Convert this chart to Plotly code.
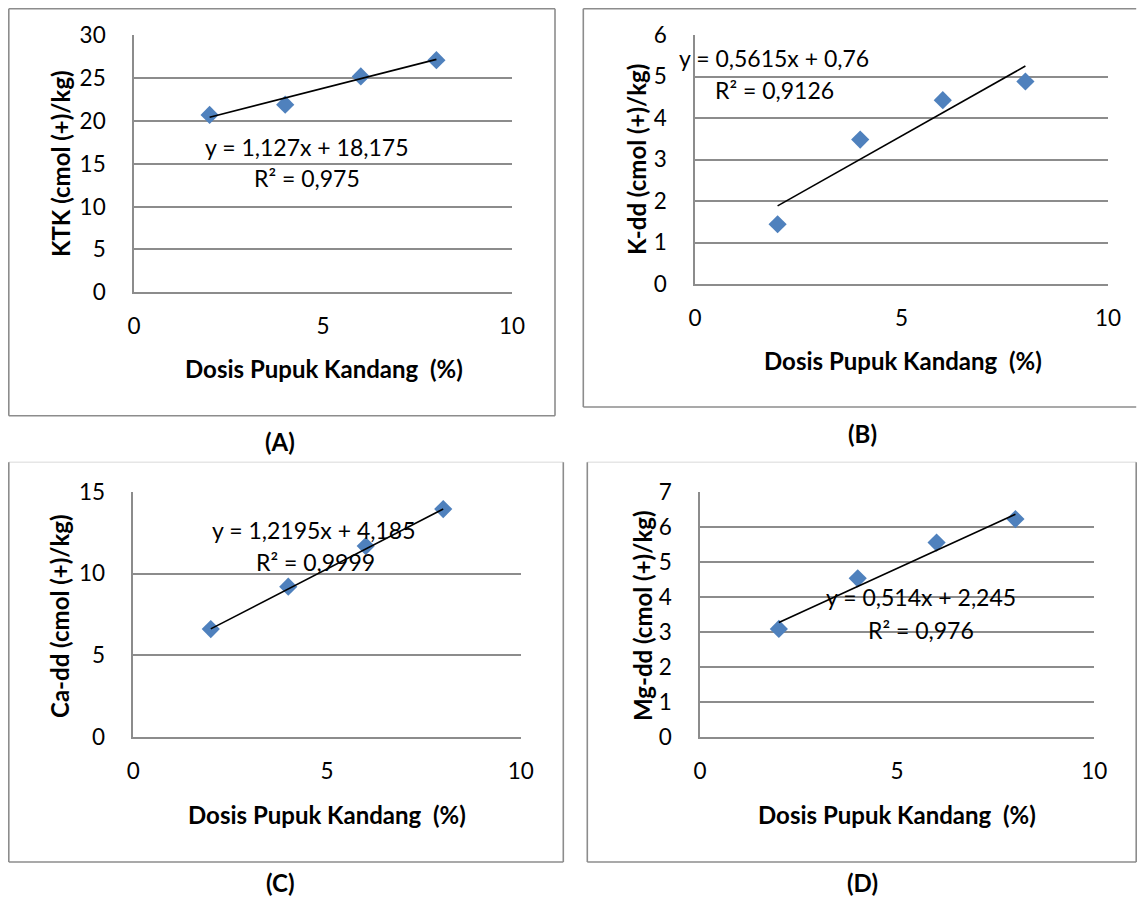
import plotly.graph_objects as go

# page offset (browser default body margin) and figure size
OFF = 8
W, H = 1145 - 2 * OFF, 905 - 2 * OFF

dose = [2, 4, 6, 8]
ktk = [20.7, 21.9, 25.2, 27.1]
k_dd = [1.44, 3.48, 4.43, 4.88]
ca_dd = [6.61, 9.2, 11.68, 13.94]
mg_dd = [3.09, 4.53, 5.55, 6.22]

slopes = [1.127, 0.5615, 1.2195, 0.514]
intercepts = [18.175, 0.76, 4.185, 2.245]
eq_texts = ["y = 1,127x + 18,175", "y = 0,5615x + 0,76", "y = 1,2195x + 4,185", "y = 0,514x + 2,245"]
r2_texts = ["R² = 0,975", "R² = 0,9126", "R² = 0,9999", "R² = 0,976"]
y_titles = ["KTK (cmol (+)/kg)", "K-dd (cmol (+)/kg)", "Ca-dd (cmol (+)/kg)", "Mg-dd (cmol (+)/kg)"]
panel_labels = ["(A)", "(B)", "(C)", "(D)"]
x_title = "Dosis Pupuk Kandang\u00a0 (%)"
y_max = [30, 6, 15, 7]
y_step = [5, 1, 5, 1]
series = [ktk, k_dd, ca_dd, mg_dd]

# layout (page pixels)
plot_boxes = [(134, 512, 35.3, 292.3), (695, 1108, 35, 284),
              (133.3, 520.7, 491.7, 737.3), (700, 1094.3, 491.7, 737.3)]
frames = [(8, 555, 6, 415.7), (583.3, 1146, 5.7, 407),
          (7.3, 563.3, 462.3, 862), (587.3, 1137.3, 462.3, 862)]
eq_pos = [(306, 147), (774, 58), (313, 530), (921, 597)]
r2_pos = [(307, 178), (774, 90), (315, 562), (921, 630)]
ytitle_pos = [(60, 164), (637, 160), (59, 616), (642, 616)]
xtitle_pos = [(324, 368), (903, 360), (327, 814), (897, 814)]
label_pos = [(280, 441), (862, 433), (280, 882), (862, 882)]

FONT = "Lato"
GRID = "#8c8c8c"
BLUE = "#4F81BD"

fig = go.Figure()
annotations = []
shapes = []

def px(x):
    return (x - OFF) / W

def py(y):
    return 1 - (y - OFF) / H

def cx(x):
    return min(max(x, OFF + 0.8), OFF + W - 0.8)

def cy(y):
    return min(max(y, OFF + 0.8), OFF + H - 0.8)

for i in range(4):
    n = "" if i == 0 else str(i + 1)
    x0, x1, y0, y1 = plot_boxes[i]
    fig.add_trace(go.Scatter(
        x=dose, y=series[i], mode="markers",
        marker=dict(symbol="diamond", size=14, color=BLUE, line=dict(width=0)),
        xaxis="x" + n, yaxis="y" + n, showlegend=False, cliponaxis=False))
    tx = [dose[0], dose[-1]]
    ty = [slopes[i] * v + intercepts[i] for v in tx]
    fig.add_trace(go.Scatter(
        x=tx, y=ty, mode="lines", line=dict(color="black", width=1.6),
        xaxis="x" + n, yaxis="y" + n, showlegend=False, cliponaxis=False))
    fig.update_layout(**{
        "xaxis" + n: dict(domain=[px(x0), px(x1)], range=[0, 10], tick0=0, dtick=5,
                          showgrid=False, zeroline=False, showline=True, linecolor=GRID,
                          linewidth=1.6, ticks="", ticklabelstandoff=13, automargin=False,
                          tickfont=dict(family=FONT, size=22.5, color="black"),
                          anchor="y" + n, fixedrange=True),
        "yaxis" + n: dict(domain=[py(y1), py(y0)], range=[0, y_max[i]], tick0=0,
                          dtick=y_step[i], showgrid=True, gridcolor=GRID, gridwidth=1.6,
                          zeroline=False, showline=True, linecolor=GRID, linewidth=1.6,
                          ticks="", ticklabelstandoff=22, automargin=False,
                          tickfont=dict(family=FONT, size=22.5, color="black"),
                          anchor="x" + n, fixedrange=True),
    })
    for (tx_, ty_), txt, bold, ang in [
        (eq_pos[i], eq_texts[i], False, 0),
        (r2_pos[i], r2_texts[i], False, 0),
        (ytitle_pos[i], y_titles[i], True, -90),
        (xtitle_pos[i], x_title, True, 0),
        (label_pos[i], panel_labels[i], True, 0),
    ]:
        annotations.append(dict(
            x=px(tx_), y=py(ty_), xref="paper", yref="paper",
            text=("<b>%s</b>" % txt) if bold else txt, showarrow=False,
            xanchor="center", yanchor="middle", textangle=ang,
            font=dict(family=FONT, size=24 if bold else 23, color="black")))
    fx0, fx1, fy0, fy1 = frames[i]
    fx0, fx1, fy0, fy1 = cx(fx0), cx(fx1), cy(fy0), cy(fy1)
    top_col = GRID if i < 2 else "#e6e6e6"
    sides = [(fx0, fx1, fy0, fy0, top_col), (fx0, fx1, fy1, fy1, GRID),
             (fx0, fx0, fy0, fy1, GRID)]
    if i != 1:
        sides.append((fx1, fx1, fy0, fy1, GRID))
    for a, b, c, d, col in sides:
        shapes.append(dict(type="line", xref="paper", yref="paper", x0=px(a), x1=px(b),
                           y0=py(c), y1=py(d), line=dict(color=col, width=1.6)))

fig.update_layout(width=W, height=H, autosize=False,
                  margin=dict(l=0, r=0, t=0, b=0, autoexpand=False),
                  paper_bgcolor="white", plot_bgcolor="white",
                  annotations=annotations, shapes=shapes, showlegend=False,
                  font=dict(family=FONT))

fig.write_html("out.html", config={"displayModeBar": False})
